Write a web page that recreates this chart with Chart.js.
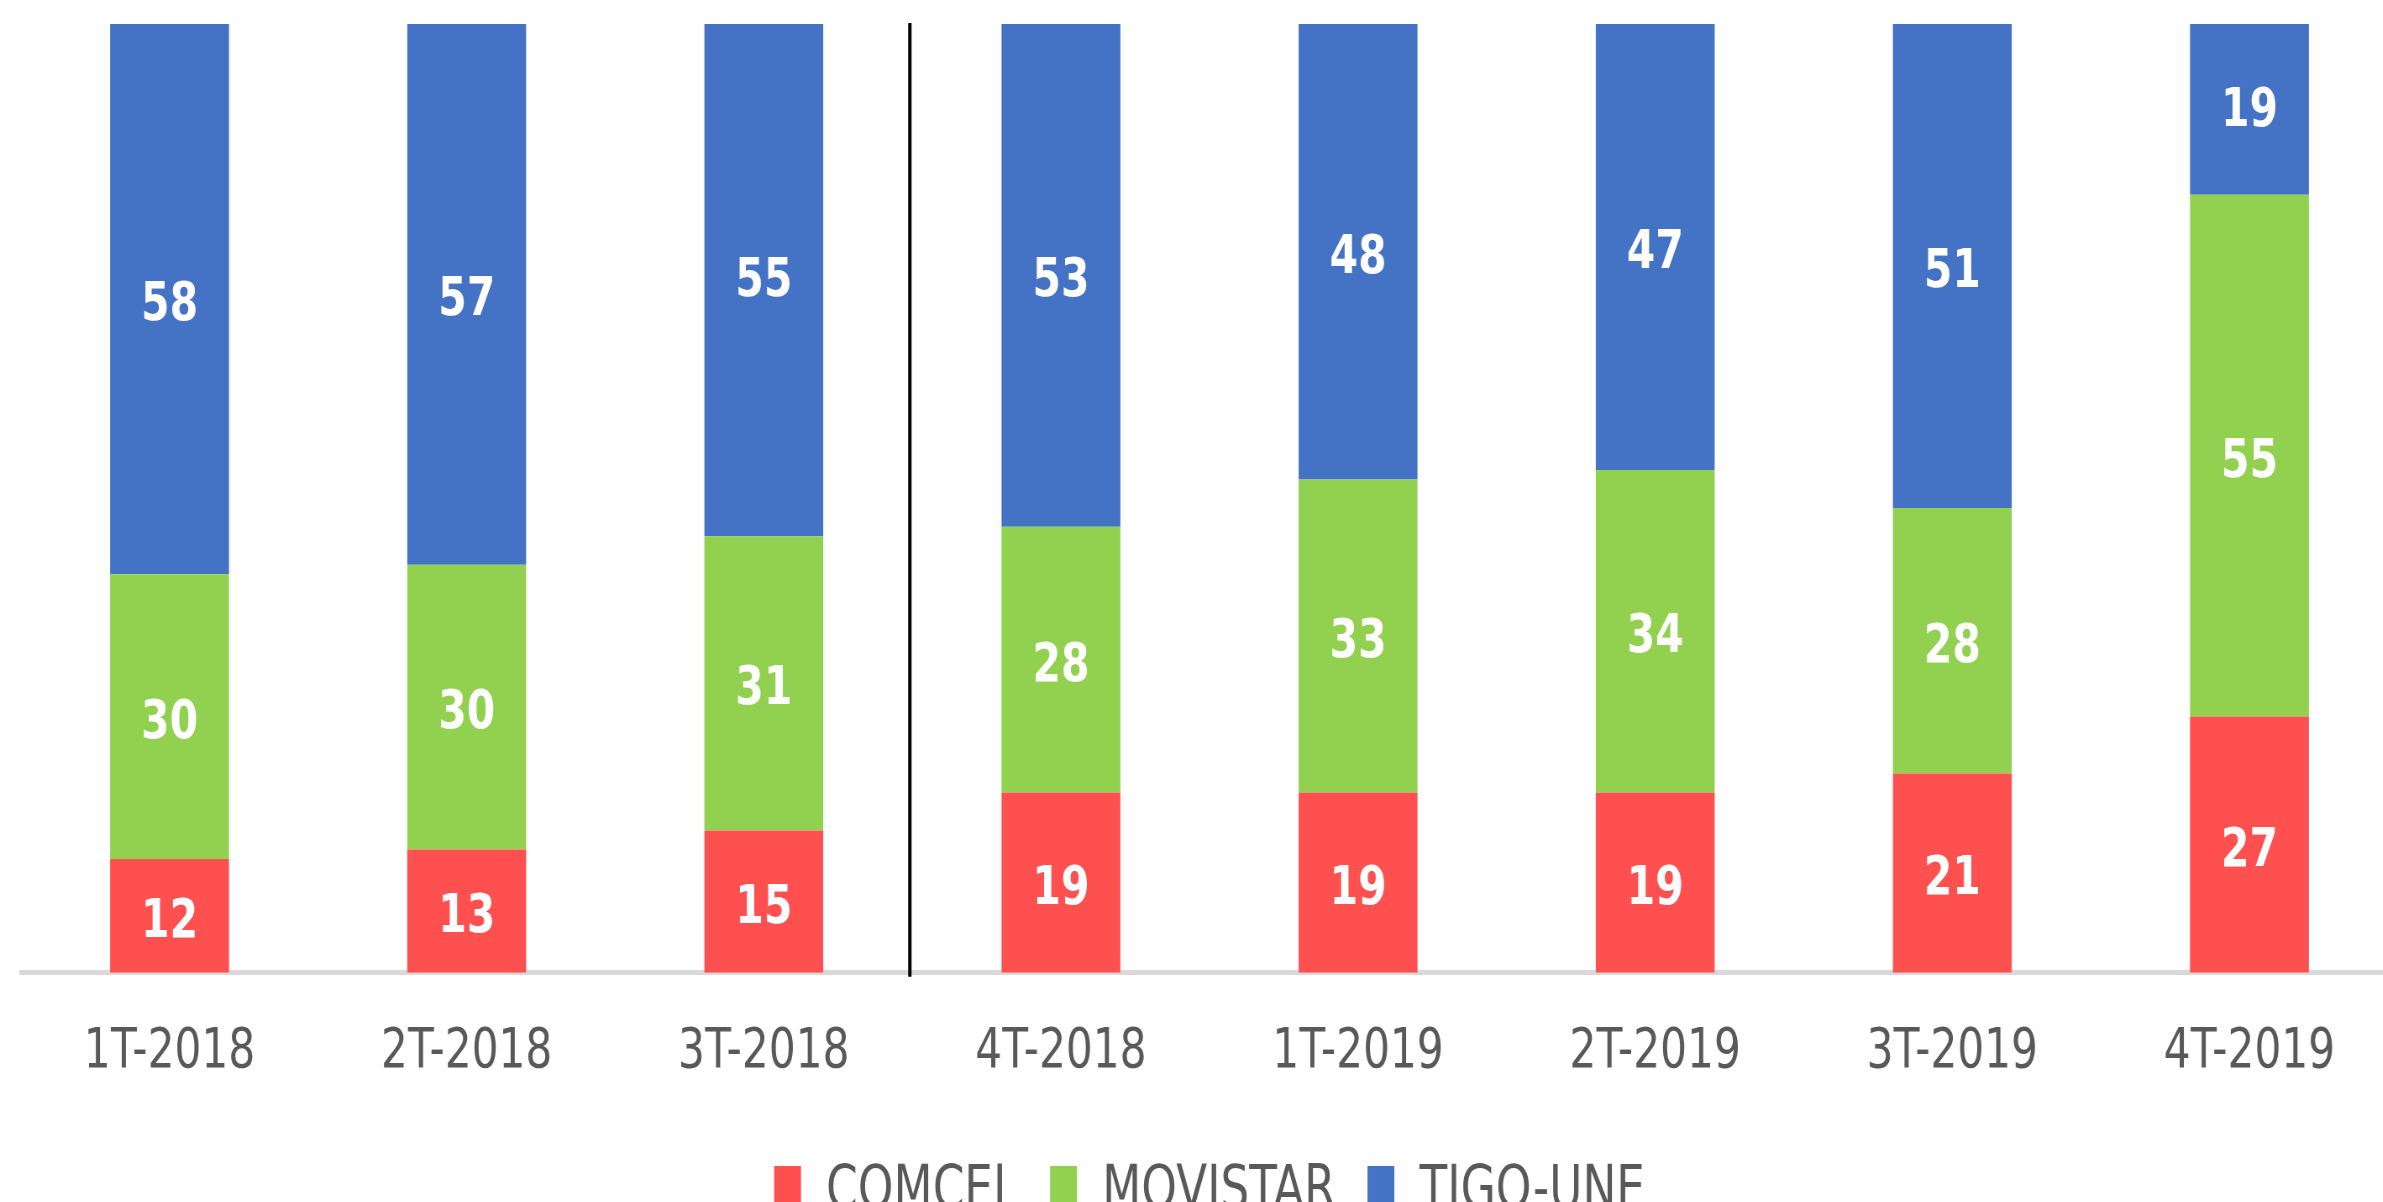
<!DOCTYPE html>
<html>
<head>
<meta charset="utf-8">
<script src="https://cdn.jsdelivr.net/npm/chart.js@4.4.1/dist/chart.umd.min.js"></script>
<style>
  html, body { margin: 0; padding: 0; background: #fff; overflow: hidden; }
  #wrap { width: 2383px; height: 1202px; overflow: hidden; }
</style>
</head>
<body>
<div id="wrap">
  <!-- the source picture is squeezed sideways, so the canvas is drawn wider and shown narrower -->
  <canvas id="chart" width="2905" height="1232" style="width: 2440px; height: 1232px;"></canvas>
</div>
<script>
const quarters = ['1T-2018', '2T-2018', '3T-2018', '4T-2018', '1T-2019', '2T-2019', '3T-2019', '4T-2019'];
const comcel = [12, 13, 15, 19, 19, 19, 21, 27];
const movistar = [30, 30, 31, 28, 33, 34, 28, 55];
const tigoUne = [58, 57, 55, 53, 48, 47, 51, 19];

const textFont = "'DejaVu Sans Condensed', 'DejaVu Sans', sans-serif";

// white value labels in the middle of each segment
const segmentLabels = {
    id: 'segmentLabels',
    afterDatasetsDraw(chart) {
        const ctx = chart.ctx;
        ctx.save();
        ctx.fillStyle = '#ffffff';
        ctx.font = "bold 54px 'DejaVu Sans Condensed', 'DejaVu Sans', sans-serif";
        ctx.textAlign = 'center';
        ctx.textBaseline = 'middle';
        chart.data.datasets.forEach((ds, i) => {
            chart.getDatasetMeta(i).data.forEach((bar, j) => {
                const p = bar.getCenterPoint();
                ctx.fillText(String(ds.data[j]), p.x, p.y + 7);
            });
        });
        ctx.restore();
    }
};

// black separator between 3T-2018 and 4T-2018
const yearSplit = {
    id: 'yearSplit',
    afterDatasetsDraw(chart) {
        const x = chart.scales.x.getPixelForValue(2.5) - 3;
        const area = chart.chartArea;
        const ctx = chart.ctx;
        ctx.save();
        ctx.strokeStyle = '#000000';
        ctx.lineWidth = 4;
        ctx.beginPath();
        ctx.moveTo(x, area.top - 1);
        ctx.lineTo(x, area.bottom + 4);
        ctx.stroke();
        ctx.restore();
    }
};

new Chart(document.getElementById('chart'), {
    type: 'bar',
    data: {
        labels: quarters,
        datasets: [
            { label: 'COMCEL', data: comcel, backgroundColor: '#FF5050' },
            { label: 'MOVISTAR', data: movistar, backgroundColor: '#92D050' },
            { label: 'TIGO-UNE', data: tigoUne, backgroundColor: '#4472C4' },
        ],
    },
    options: {
        responsive: false,
        devicePixelRatio: 1,
        animation: false,
        barPercentage: 0.4,
        categoryPercentage: 1,
        layout: { padding: { left: 25, right: 50, top: 24, bottom: 0 } },
        scales: {
            x: {
                stacked: true,
                grid: { display: false },
                border: { display: true, color: '#D9D9D9', width: 5 },
                ticks: {
                    color: '#595959',
                    padding: 38,
                    font: { family: textFont, size: 56 },
                },
            },
            y: {
                stacked: true,
                display: false,
                min: 0,
                max: 100,
            },
        },
        plugins: {
            tooltip: { enabled: false },
            legend: {
                position: 'bottom',
                labels: {
                    color: '#595959',
                    boxWidth: 32,
                    boxHeight: 52,
                    padding: 38,
                    font: { family: textFont, size: 60 },
                },
            },
        },
    },
    plugins: [segmentLabels, yearSplit],
});
</script>
</body>
</html>
